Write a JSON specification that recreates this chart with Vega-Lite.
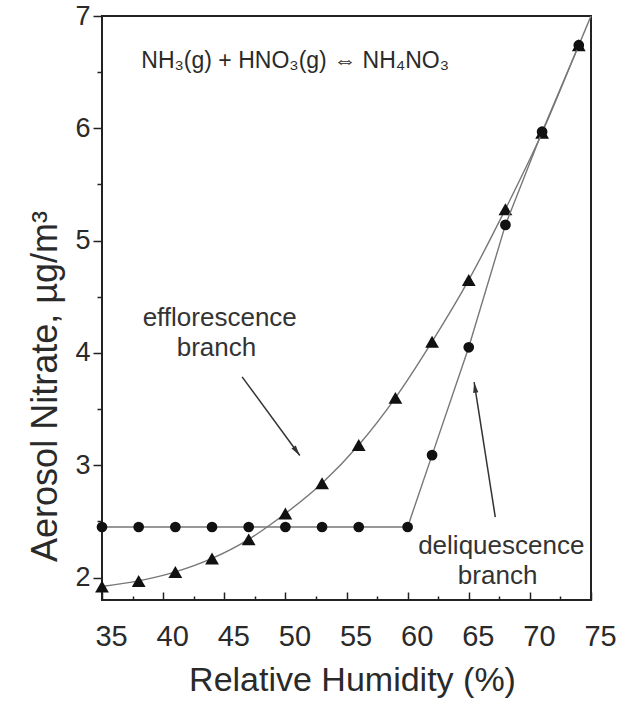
{
  "$schema": "https://vega.github.io/schema/vega-lite/v6.json",
  "width": 489,
  "height": 584,
  "autosize": {"type": "none"},
  "padding": {"left": 102, "top": 16, "right": 27, "bottom": 106},
  "background": "white",
  "config": {
    "view": {"stroke": "#222", "strokeWidth": 2},
    "font": "Liberation Sans",
    "axis": {"grid": false, "domain": false, "labelFont": "Liberation Sans", "titleFont": "Liberation Sans", "labelColor": "#2a2a2a", "titleColor": "#2a2a2a", "tickColor": "#222", "tickWidth": 1.5, "titleFontWeight": "normal", "labelFlush": false, "labelOverlap": false}
  },
  "datasets": {
    "eff": [
      {"x": 35, "y": 1.92}, {"x": 38, "y": 1.97}, {"x": 41, "y": 2.05}, {"x": 44, "y": 2.17},
      {"x": 47, "y": 2.34}, {"x": 50, "y": 2.57}, {"x": 53, "y": 2.84}, {"x": 56, "y": 3.18},
      {"x": 59, "y": 3.6}, {"x": 62, "y": 4.1}, {"x": 65, "y": 4.65}, {"x": 68, "y": 5.28},
      {"x": 71, "y": 5.96}, {"x": 74, "y": 6.74}, {"x": 75, "y": 7.0}
    ],
    "deli": [
      {"x": 35, "y": 2.45}, {"x": 38, "y": 2.45}, {"x": 41, "y": 2.45}, {"x": 44, "y": 2.45},
      {"x": 47, "y": 2.45}, {"x": 50, "y": 2.45}, {"x": 53, "y": 2.45}, {"x": 56, "y": 2.45},
      {"x": 60, "y": 2.45}, {"x": 62, "y": 3.09}, {"x": 65, "y": 4.05}, {"x": 68, "y": 5.14},
      {"x": 71, "y": 5.97}, {"x": 74, "y": 6.74}
    ],
    "arrows": [
      {"name": "eff", "x": 46.46, "y": 3.787, "x2": 51.18, "y2": 3.087},
      {"name": "deli", "x": 67.17, "y": 2.538, "x2": 65.44, "y2": 3.739}
    ],
    "heads": [
      {"name": "eff", "x": 51.18, "y": 3.087},
      {"name": "deli", "x": 65.44, "y": 3.739}
    ],
    "equation": [
      {"x": 50.8, "y": 6.54, "label": "NH₃(g) + HNO₃(g) ⇔ NH₄NO₃"}
    ],
    "notes": [
      {"x": 44.63, "y": 4.237, "label": "efflorescence"},
      {"x": 44.36, "y": 3.971, "label": "branch"},
      {"x": 67.66, "y": 2.213, "label": "deliquescence"},
      {"x": 67.36, "y": 1.946, "label": "branch"}
    ]
  },
  "resolve": {"axis": {"x": "independent", "y": "independent"}},
  "layer": [
    {
      "data": {"name": "eff"},
      "mark": {"type": "line", "interpolate": "monotone", "color": "#777", "strokeWidth": 1.4},
      "encoding": {
        "x": {"field": "x", "type": "quantitative", "scale": {"domain": [35, 75], "nice": false, "zero": false},
          "axis": {"orient": "bottom", "values": [35, 40, 45, 50, 55, 60, 65, 70, 75], "ticks": false, "labelFontSize": 29, "labelPadding": 22, "labelOffset": 9,
            "title": "Relative Humidity (%)", "titleFontSize": 34, "titleX": 250, "titleY": 90, "titleBaseline": "alphabetic"}},
        "y": {"field": "y", "type": "quantitative", "scale": {"domain": [1.8, 7], "nice": false, "zero": false},
          "axis": {"orient": "left", "values": [2, 3, 4, 5, 6, 7], "tickSize": 9, "labelFontSize": 27, "labelPadding": 3,
            "title": "Aerosol Nitrate, µg/m³", "titleFontSize": 36, "titleX": -57, "titleY": 370, "titleBaseline": "middle", "titleAngle": 270, "titleAlign": "center"}}
      }
    },
    {
      "data": {"name": "eff"},
      "transform": [{"filter": "datum.x < 75"}],
      "mark": {"type": "point", "shape": "triangle-up", "filled": true, "color": "#111", "size": 190, "opacity": 1},
      "encoding": {
        "x": {"field": "x", "type": "quantitative", "scale": {"domain": [35, 75], "nice": false, "zero": false}, "axis": null},
        "y": {"field": "y", "type": "quantitative", "scale": {"domain": [1.8, 7], "nice": false, "zero": false}, "axis": null}
      }
    },
    {
      "data": {"name": "deli"},
      "mark": {"type": "line", "color": "#777", "strokeWidth": 1.4},
      "encoding": {
        "x": {"field": "x", "type": "quantitative", "scale": {"domain": [35, 75], "nice": false, "zero": false},
          "axis": {"orient": "bottom", "values": [35, 40, 45, 50, 55, 60, 65, 70, 75], "labels": false, "tickSize": -8, "title": null}},
        "y": {"field": "y", "type": "quantitative", "scale": {"domain": [1.8, 7], "nice": false, "zero": false},
          "axis": {"orient": "left", "values": [2.5, 3.5, 4.5, 5.5, 6.5], "labels": false, "tickSize": 5, "title": null}}
      }
    },
    {
      "data": {"name": "deli"},
      "mark": {"type": "point", "shape": "circle", "filled": true, "color": "#111", "size": 115, "opacity": 1},
      "encoding": {
        "x": {"field": "x", "type": "quantitative", "scale": {"domain": [35, 75], "nice": false, "zero": false}, "axis": null},
        "y": {"field": "y", "type": "quantitative", "scale": {"domain": [1.8, 7], "nice": false, "zero": false}, "axis": null}
      }
    },
    {
      "data": {"name": "arrows"},
      "mark": {"type": "rule", "color": "#333", "strokeWidth": 1.5},
      "encoding": {
        "x": {"field": "x", "type": "quantitative", "scale": {"domain": [35, 75], "nice": false, "zero": false},
          "axis": {"orient": "bottom", "values": [37.5, 42.5, 47.5, 52.5, 57.5, 62.5, 67.5, 72.5], "labels": false, "tickSize": -4, "title": null}},
        "y": {"field": "y", "type": "quantitative", "scale": {"domain": [1.8, 7], "nice": false, "zero": false}, "axis": null},
        "x2": {"field": "x2"},
        "y2": {"field": "y2"}
      }
    },
    {
      "data": {"name": "heads"},
      "transform": [{"filter": "datum.name == 'eff'"}],
      "mark": {"type": "point", "shape": "M0,0L0.5,2L-0.5,2Z", "filled": true, "color": "#333", "size": 110, "angle": 143.9, "opacity": 1},
      "encoding": {
        "x": {"field": "x", "type": "quantitative", "scale": {"domain": [35, 75], "nice": false, "zero": false}, "axis": null},
        "y": {"field": "y", "type": "quantitative", "scale": {"domain": [1.8, 7], "nice": false, "zero": false}, "axis": null}
      }
    },
    {
      "data": {"name": "heads"},
      "transform": [{"filter": "datum.name == 'deli'"}],
      "mark": {"type": "point", "shape": "M0,0L0.5,2L-0.5,2Z", "filled": true, "color": "#333", "size": 110, "angle": 351.1, "opacity": 1},
      "encoding": {
        "x": {"field": "x", "type": "quantitative", "scale": {"domain": [35, 75], "nice": false, "zero": false}, "axis": null},
        "y": {"field": "y", "type": "quantitative", "scale": {"domain": [1.8, 7], "nice": false, "zero": false}, "axis": null}
      }
    },
    {
      "data": {"name": "equation"},
      "mark": {"type": "text", "font": "Liberation Sans", "fontSize": 23, "color": "#2a2a2a", "align": "center", "baseline": "alphabetic"},
      "encoding": {
        "x": {"field": "x", "type": "quantitative", "scale": {"domain": [35, 75], "nice": false, "zero": false}, "axis": null},
        "y": {"field": "y", "type": "quantitative", "scale": {"domain": [1.8, 7], "nice": false, "zero": false}, "axis": null},
        "text": {"field": "label"}
      }
    },
    {
      "data": {"name": "notes"},
      "mark": {"type": "text", "font": "Liberation Sans", "fontSize": 26, "color": "#333", "align": "center", "baseline": "alphabetic"},
      "encoding": {
        "x": {"field": "x", "type": "quantitative", "scale": {"domain": [35, 75], "nice": false, "zero": false}, "axis": null},
        "y": {"field": "y", "type": "quantitative", "scale": {"domain": [1.8, 7], "nice": false, "zero": false}, "axis": null},
        "text": {"field": "label"}
      }
    }
  ]
}
